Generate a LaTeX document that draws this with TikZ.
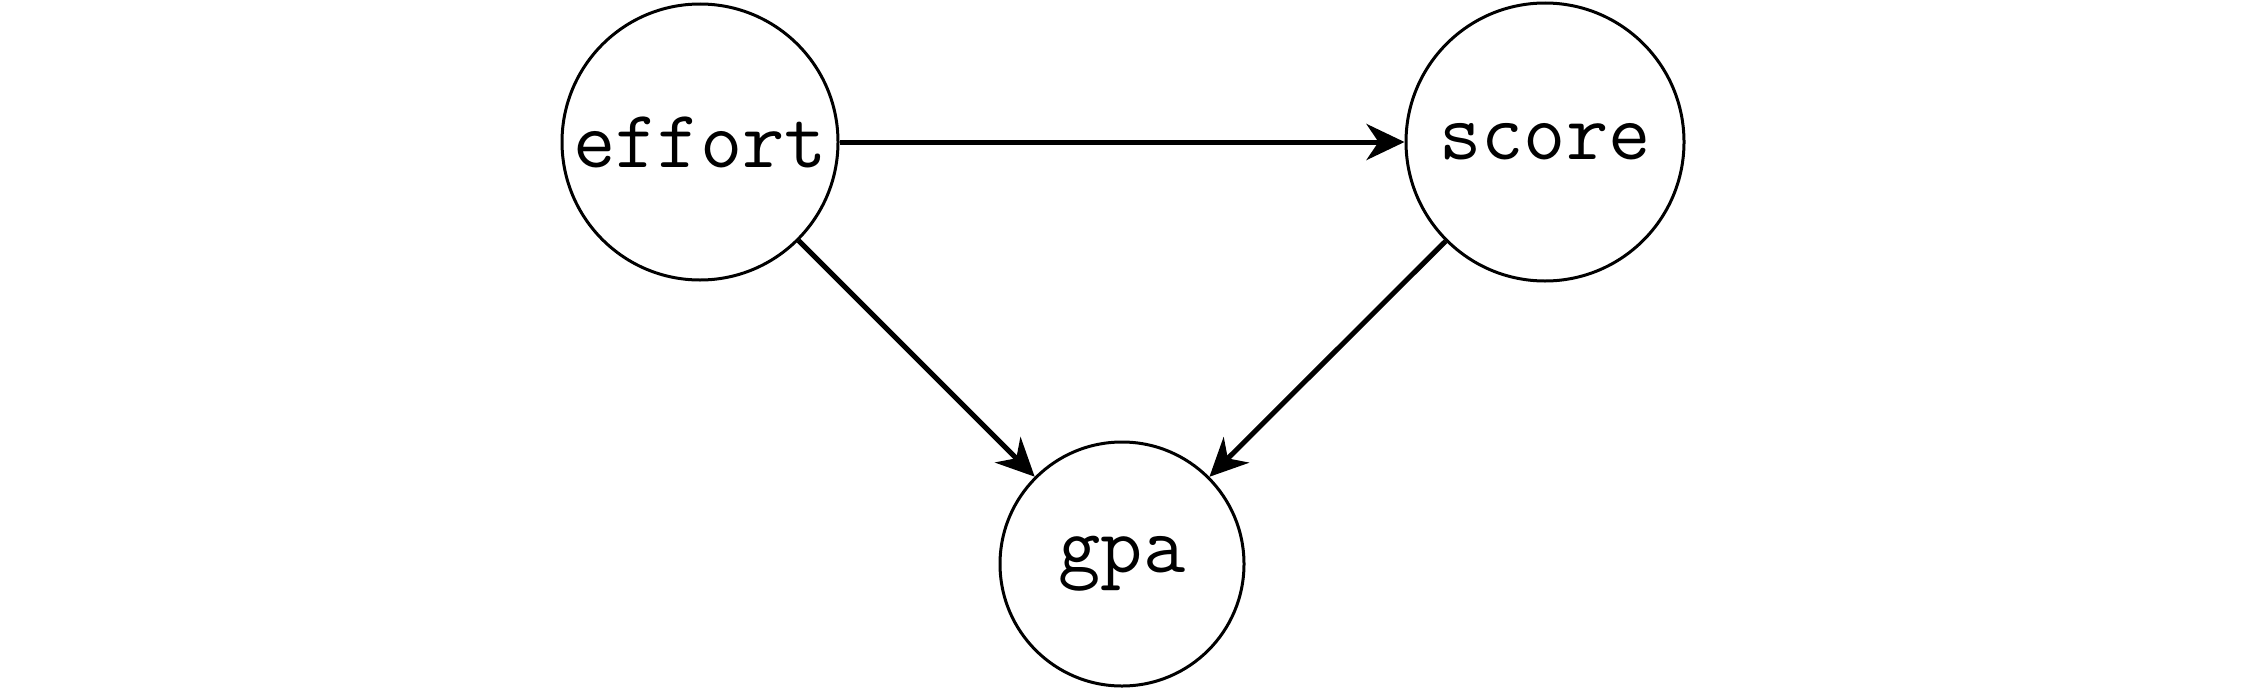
\documentclass[tikz,border=0pt]{standalone}
\usetikzlibrary{arrows.meta}
\begin{document}
\begin{tikzpicture}[x=1pt,y=-1pt,
  var/.style={circle,draw,line width=3pt,inner sep=0pt,font=\ttfamily\fontsize{82}{82}\selectfont},
  edge/.style={line width=5pt,-{Stealth[length=38pt,width=36pt,inset=12pt]}}]
\useasboundingbox (0,0) rectangle (2250,688);
\node[var,minimum size=276pt] (effort) at (700,142) {effort};
\node[var,minimum size=278pt] (score) at (1545,142) {score};
\node[var,minimum size=244pt] (gpa) at (1122,564) {gpa};
\draw[edge] (effort) -- (score);
\draw[edge] (effort) -- (gpa);
\draw[edge] (score) -- (gpa);
\end{tikzpicture}
\end{document}
